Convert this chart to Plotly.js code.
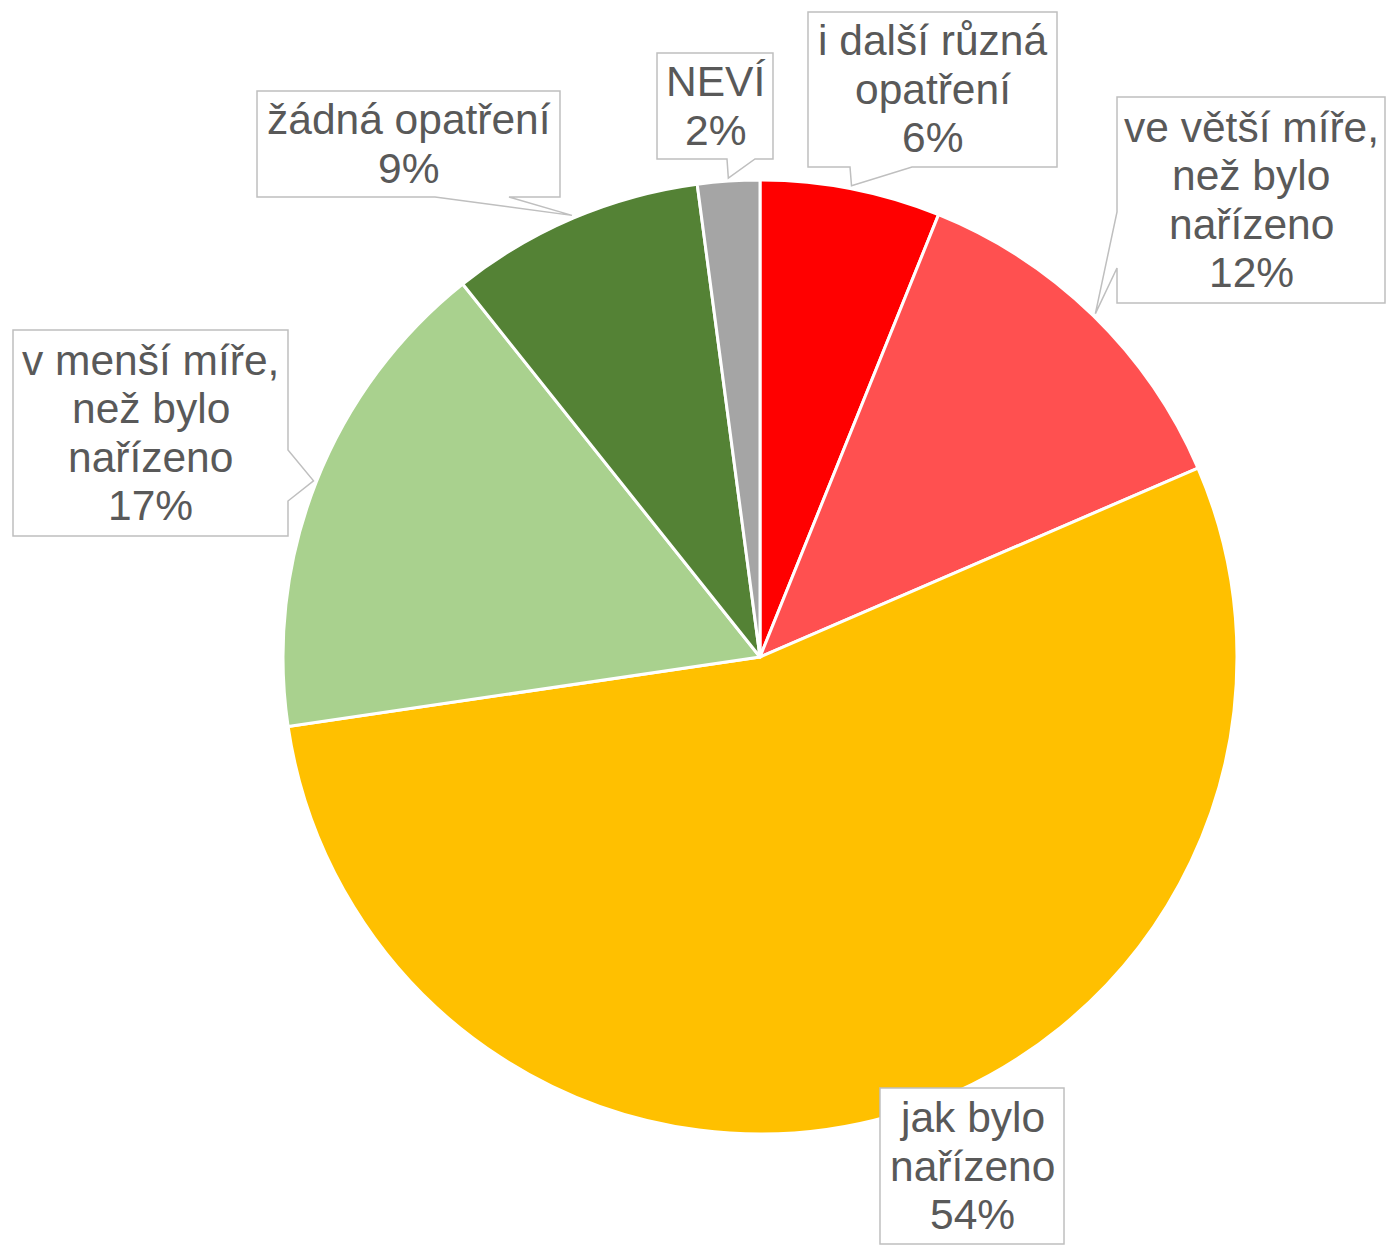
<!DOCTYPE html>
<html>
<head>
<meta charset="utf-8">
<script src="https://cdn.plot.ly/plotly-3.0.1.min.js"></script>
<style>html,body{margin:0;padding:0;background:#fff;}#chart{width:1386px;height:1247px;}</style>
</head>
<body>
<div id="chart"></div>
<script>
// ---- data ----
var categories = ["i další různá<br>opatření", "ve větší míře,<br>než bylo<br>nařízeno", "jak bylo<br>nařízeno", "v menší míře,<br>než bylo<br>nařízeno", "žádná opatření", "NEVÍ"];
var values = [6.1, 12.4, 54.1, 16.6, 8.6, 2.1];
var colors = ["#FF0000", "#FF5050", "#FFC000", "#A9D18E", "#548235", "#A5A5A5"];

// ---- layout (pixels) ----
var W = 1386, H = 1247;
var CX = 760, CY = 657, R = 477;
var FONT_SIZE = 42.5, LINE_H = 48.5;
// callout boxes: [x0, y0, x1, y1, tailSide, base0, base1]
var boxes = [
  [808, 12, 1057, 167, "bottom", 850, 912],
  [1117, 97, 1385, 303, "left", 212, 268],
  [880, 1088, 1064, 1244, "none", 0, 0],
  [13, 330, 288, 536, "right", 450, 501],
  [257, 91, 560, 197, "bottom", 435, 509],
  [657, 53, 773, 159, "bottom", 727, 755]
];

function px(x) { return x / W; }
function py(y) { return 1 - y / H; }

var total = values.reduce(function (a, b) { return a + b; }, 0);
var shapes = [], annotations = [];
var cum = 0;
values.forEach(function (v, i) {
  var mid = (cum + v / 2) / total * 2 * Math.PI;
  cum += v;
  var tx = CX + (R + 3) * Math.sin(mid), ty = CY - (R + 3) * Math.cos(mid);
  var b = boxes[i];
  var x0 = b[0], y0 = b[1], x1 = b[2], y1 = b[3];
  var pts = [[x0, y0], [x1, y0]];
  if (b[4] === "right") { pts.push([x1, b[5]], [tx, ty], [x1, b[6]]); }
  pts.push([x1, y1]);
  if (b[4] === "bottom") { pts.push([b[6], y1], [tx, ty], [b[5], y1]); }
  pts.push([x0, y1]);
  if (b[4] === "left") { pts.push([x0, b[6]], [tx, ty], [x0, b[5]]); }
  var path = pts.map(function (p, k) { return (k ? "L" : "M") + px(p[0]).toFixed(5) + "," + py(p[1]).toFixed(5); }).join(" ") + " Z";
  shapes.push({ type: "path", xref: "paper", yref: "paper", path: path, fillcolor: "#FFFFFF", line: { color: "#BFBFBF", width: 1.5 }, layer: "above" });

  var lines = (categories[i] + "<br>" + Math.round(v / total * 100) + "%").split("<br>");
  var cy = (y0 + y1) / 2, cxm = (x0 + x1) / 2;
  lines.forEach(function (ln, k) {
    var ly = cy + (k - (lines.length - 1) / 2) * LINE_H;
    annotations.push({
      xref: "paper", yref: "paper", x: px(cxm), y: py(ly),
      xanchor: "center", yanchor: "middle", align: "center", showarrow: false,
      text: ln,
      font: { family: "Liberation Sans, Arial, sans-serif", size: FONT_SIZE, color: "#595959" }
    });
  });
});

var data = [{
  type: "pie",
  labels: categories,
  values: values,
  sort: false,
  direction: "clockwise",
  rotation: 0,
  marker: { colors: colors, line: { color: "#FFFFFF", width: 3 } },
  textinfo: "none",
  hoverinfo: "label+percent",
  domain: { x: [px(CX - R), px(CX + R)], y: [py(CY + R), py(CY - R)] }
}];

var layout = {
  width: W, height: H,
  margin: { l: 0, r: 0, t: 0, b: 0 },
  paper_bgcolor: "#FFFFFF",
  showlegend: false,
  shapes: shapes,
  annotations: annotations
};

Plotly.newPlot("chart", data, layout, { displayModeBar: false, staticPlot: true });
</script>
</body>
</html>
